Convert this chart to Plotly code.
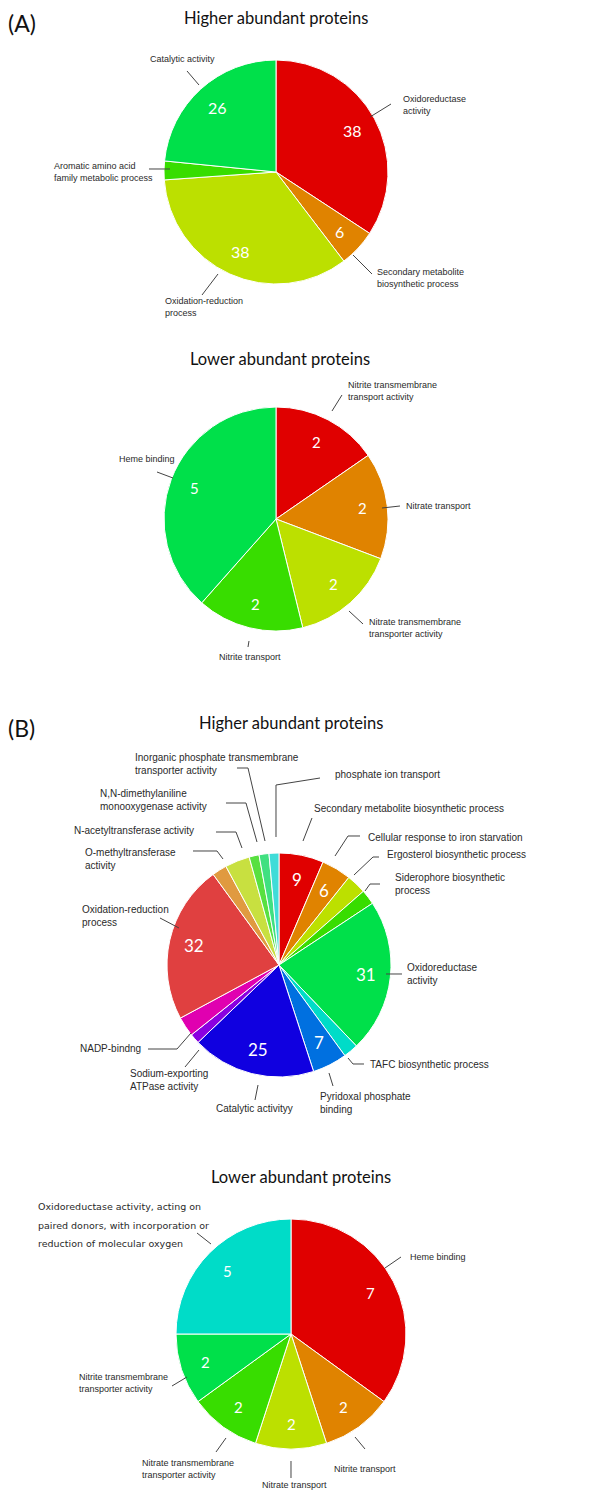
import math
import plotly.graph_objects as go

W, H = 612, 1490

# ---- data -------------------------------------------------------------
a_high_labels = ["Oxidoreductase activity", "Secondary metabolite biosynthetic process",
                 "Oxidation-reduction process", "Aromatic amino acid family metabolic process",
                 "Catalytic activity"]
a_high_values = [38, 6, 38, 3, 26]

a_low_labels = ["Nitrite transmembrane transport activity", "Nitrate transport",
                "Nitrate transmembrane transporter activity", "Nitrite transport",
                "Heme binding"]
a_low_values = [2, 2, 2, 2, 5]

b_high_labels = ["Secondary metabolite biosynthetic process", "Cellular response to iron starvation",
                 "Ergosterol biosynthetic process", "Siderophore biosynthetic process",
                 "Oxidoreductase activity", "TAFC biosynthetic process",
                 "Pyridoxal phosphate binding", "Catalytic activityy",
                 "Sodium-exporting ATPase activity", "NADP-bindng",
                 "Oxidation-reduction process", "O-methyltransferase activity",
                 "N-acetyltransferase activity", "N,N-dimethylaniline monooxygenase activity",
                 "Inorganic phosphate transmembrane transporter activity",
                 "phosphate ion transport"]
b_high_values = [9, 6, 4, 3, 31, 3, 7, 25, 2, 4, 32, 3, 5, 2, 2, 2]

b_low_labels = ["Heme binding", "Nitrite transport", "Nitrate transport",
                "Nitrate transmembrane transporter activity",
                "Nitrite transmembrane transporter activity",
                "Oxidoreductase activity, acting on paired donors, with incorporation or reduction of molecular oxygen"]
b_low_values = [7, 2, 2, 2, 2, 5]

# ---- styling ----------------------------------------------------------
RED, ORANGE, YGREEN, GREEN, GREEN2 = "#e00000", "#e08300", "#bce000", "#38dd00", "#00e04a"
a_high_colors = [RED, ORANGE, YGREEN, GREEN, GREEN2]
a_low_colors = [RED, ORANGE, YGREEN, GREEN, GREEN2]
b_high_colors = [RED, ORANGE, YGREEN, GREEN, GREEN2, "#00dcc8", "#0070e0", "#1000e0",
                 "#8a00e0", "#e000b0", "#e04040", "#e09a40", "#c8e040", "#58e040",
                 "#40e080", "#40dcd8"]
b_low_colors = [RED, ORANGE, YGREEN, GREEN, GREEN2, "#00dcc8"]

LABEL_FONT = "Liberation Sans, Arial, sans-serif"
TITLE_FONT = "Lato, sans-serif"


def px(x, y):
    return x / W, 1 - y / H


fig = go.Figure()
annotations = []
shapes = []

# (values, colors, centre x, centre y, radius, smallest value printed, value font size)
pies = [
    (a_high_values, a_high_colors, 276, 172, 112, 5, 16),
    (a_low_values, a_low_colors, 276, 519, 112, 0, 15),
    (b_high_values, b_high_colors, 279, 965, 112, 6, 17),
    (b_low_values, b_low_colors, 291, 1334, 115, 0, 15),
]
pie_labels = [a_high_labels, a_low_labels, b_high_labels, b_low_labels]

for (vals, cols, cx, cy, r, vmin, vfs), labs in zip(pies, pie_labels):
    x0, y1 = px(cx - r, cy - r)
    x1, y0 = px(cx + r, cy + r)
    fig.add_trace(go.Pie(
        labels=labs, values=vals, sort=False, direction="clockwise", rotation=0,
        marker=dict(colors=cols, line=dict(color="white", width=1)),
        textinfo="none", hoverinfo="skip", showlegend=False,
        domain=dict(x=[x0, x1], y=[y0, y1]),
    ))
    # value labels placed along each slice's mid-angle
    total = sum(vals)
    start = 0.0
    for v in vals:
        mid = (start + v / 2) / total * 2 * math.pi
        start += v
        if v < vmin:
            continue
        tx = cx + 0.78 * r * math.sin(mid)
        ty = cy - 0.78 * r * math.cos(mid)
        ax_, ay_ = px(tx, ty)
        annotations.append(dict(x=ax_, y=ay_, xref="paper", yref="paper", text=str(v),
                                showarrow=False, xanchor="center", yanchor="middle",
                                font=dict(family=TITLE_FONT, size=vfs, color="white")))


def label(text, x, y, size, family=LABEL_FONT, color="#2a2a2a"):
    ax_, ay_ = px(x, y)
    annotations.append(dict(x=ax_, y=ay_, xref="paper", yref="paper", text=text,
                            showarrow=False, xanchor="left", yanchor="middle", align="left",
                            font=dict(family=family, size=size, color=color)))


def leader(*pts):
    path = ""
    for i, (x, y) in enumerate(pts):
        u, v = px(x, y)
        path += ("M" if i == 0 else "L") + f"{u:.5f},{v:.5f} "
    shapes.append(dict(type="path", path=path.strip(), xref="paper", yref="paper",
                       line=dict(color="#444444", width=1)))


def title(text, x, y, size=16.5):
    ax_, ay_ = px(x, y)
    annotations.append(dict(x=ax_, y=ay_, xref="paper", yref="paper", text=text,
                            showarrow=False, xanchor="center", yanchor="middle",
                            font=dict(family=TITLE_FONT, size=size, color="#111111")))


# panel letters
for letter, yy in (("(A)", 23), ("(B)", 728)):
    ax_, ay_ = px(6, yy)
    annotations.append(dict(x=ax_, y=ay_, xref="paper", yref="paper", text=letter,
                            showarrow=False, xanchor="left", yanchor="middle",
                            font=dict(family=TITLE_FONT, size=23, color="#111111")))

# ---- panel A, higher abundant -----------------------------------------
title("Higher abundant proteins", 276, 18)
fa = 9
label("Catalytic activity", 148, 59, fa)
leader((187, 71), (199, 85))
label("Oxidoreductase<br>activity", 401, 105, fa)
leader((370, 117), (391, 104))
label("Aromatic amino acid<br>family metabolic process", 52, 172, fa)
leader((149, 169), (170, 169))
label("Secondary metabolite<br>biosynthetic process", 375, 278, fa)
leader((353, 255), (372, 274))
label("Oxidation-reduction<br>process", 163, 307, fa)
leader((218, 274), (202, 295))

# ---- panel A, lower abundant ------------------------------------------
title("Lower abundant proteins", 280, 359)
label("Nitrite transmembrane<br>transport activity", 346, 391, fa)
leader((332, 411), (342, 395))
label("Nitrate transport", 404, 506, fa)
leader((382, 508), (400, 506))
label("Nitrate transmembrane<br>transporter activity", 367, 628, fa)
leader((349, 611), (363, 624))
label("Nitrite transport", 217, 657, fa)
leader((248, 647), (249, 641))
label("Heme binding", 117, 459, fa)
leader((157, 472), (173, 478))

# ---- panel B, higher abundant -----------------------------------------
title("Higher abundant proteins", 291, 723)
fb = 10
label("Inorganic phosphate transmembrane<br>transporter activity", 133, 764, fb)
leader((237, 768), (248, 768), (265, 841))
label("phosphate ion transport", 333, 774, fb)
leader((320, 778), (276, 785), (276, 837))
label("N,N-dimethylaniline<br>monooxygenase activity", 98, 800, fb)
leader((226, 803), (246, 803), (257, 842))
label("Secondary metabolite biosynthetic process", 312, 808, fb)
leader((312, 818), (303, 841))
label("N-acetyltransferase activity", 72, 831, fb)
leader((216, 832), (236, 832), (242, 848))
label("Cellular response to iron starvation", 366, 837, fb)
leader((360, 836), (348, 836), (335, 856))
label("Ergosterol biosynthetic process", 385, 854, fb)
leader((379, 857), (373, 857), (354, 875))
label("O-methyltransferase<br>activity", 83, 859, fb)
leader((193, 851), (217, 851), (223, 859))
label("Siderophore biosynthetic<br>process", 393, 884, fb)
leader((380, 884), (370, 884), (365, 891))
label("Oxidation-reduction<br>process", 80, 916, fb)
leader((160, 918), (179, 928))
label("Oxidoreductase<br>activity", 405, 974, fb)
leader((386, 974), (402, 974))
label("NADP-bindng", 78, 1048, fb)
leader((148, 1049), (177, 1049), (191, 1033))
label("TAFC biosynthetic process", 368, 1064, fb)
leader((348, 1058), (353, 1064), (364, 1064))
label("Sodium-exporting<br>ATPase activity", 128, 1080, fb)
leader((185, 1067), (199, 1050))
label("Pyridoxal phosphate<br>binding", 318, 1103, fb)
leader((329, 1073), (333, 1086))
label("Catalytic activityy", 214, 1108, fb)
leader((258, 1085), (255, 1100))

# ---- panel B, lower abundant ------------------------------------------
title("Lower abundant proteins", 301, 1177)
fc = 9
for line, yy in (("Oxidoreductase activity, acting on", 1206),
                 ("paired donors, with incorporation or", 1225),
                 ("reduction of molecular oxygen", 1243)):
    label(line, 36, yy, 9.5, family="DejaVu Sans, sans-serif")
leader((197, 1233), (211, 1244))
label("Heme binding", 408, 1257, fc)
leader((385, 1268), (401, 1257))
label("Nitrite transmembrane<br>transporter activity", 77, 1383, fc)
leader((172, 1386), (187, 1377))
label("Nitrate transmembrane<br>transporter activity", 140, 1469, fc)
leader((216, 1452), (226, 1438))
label("Nitrate transport", 260, 1485, fc)
leader((291, 1461), (291, 1478))
label("Nitrite transport", 332, 1469, fc)
leader((355, 1437), (365, 1449))

fig.update_layout(
    width=W, height=H,
    margin=dict(l=0, r=0, t=0, b=0),
    paper_bgcolor="white", plot_bgcolor="white",
    annotations=annotations, shapes=shapes,
)

fig.write_html("out.html")
